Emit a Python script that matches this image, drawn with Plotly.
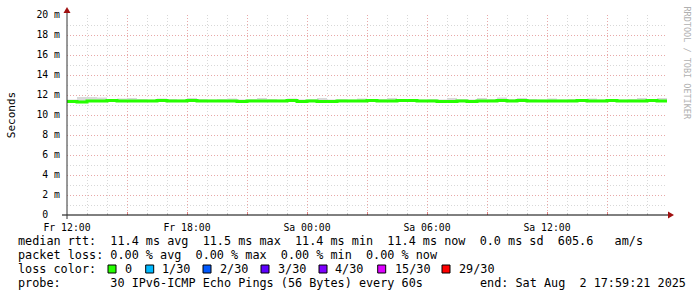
import plotly.graph_objects as go
import pandas as pd

# ---------------- data ----------------
times = pd.date_range("2025-08-01 12:00", periods=61, freq="30min")
median_ms = [
    11.35, 11.3, 11.4, 11.4, 11.45, 11.4, 11.4, 11.4, 11.4, 11.45,
    11.4, 11.4, 11.45, 11.4, 11.4, 11.4, 11.4, 11.35, 11.4, 11.4,
    11.4, 11.4, 11.45, 11.35, 11.4, 11.35, 11.35, 11.4, 11.4, 11.4,
    11.45, 11.4, 11.4, 11.45, 11.45, 11.4, 11.4, 11.35, 11.35, 11.4,
    11.35, 11.4, 11.4, 11.45, 11.4, 11.45, 11.4, 11.4, 11.4, 11.4,
    11.4, 11.45, 11.4, 11.4, 11.45, 11.4, 11.4, 11.4, 11.45, 11.4, 11.4,
]
smoke_hi = [
    11.55, 11.8, 11.8, 11.75, 11.6, 11.65, 11.7, 11.6, 11.55, 11.65,
    11.6, 11.55, 11.7, 11.6, 11.55, 11.6, 11.65, 11.55, 11.6, 11.7,
    11.6, 11.55, 11.65, 11.55, 11.6, 11.7, 11.55, 11.6, 11.55, 11.65,
    11.55, 11.6, 11.7, 11.55, 11.6, 11.55, 11.6, 11.55, 11.7, 11.6,
    11.55, 11.7, 11.6, 11.75, 11.6, 11.7, 11.6, 11.55, 11.65, 11.55,
    11.6, 11.55, 11.65, 11.55, 11.6, 11.55, 11.6, 11.7, 11.55, 11.7, 11.65,
]
smoke_lo = [
    11.3, 11.25, 11.3, 11.3, 11.35, 11.3, 11.3, 11.3, 11.3, 11.35,
    11.3, 11.3, 11.35, 11.3, 11.3, 11.3, 11.3, 11.25, 11.3, 11.3,
    11.3, 11.3, 11.35, 11.25, 11.3, 11.25, 11.25, 11.3, 11.3, 11.3,
    11.35, 11.3, 11.3, 11.35, 11.35, 11.3, 11.3, 11.25, 11.25, 11.3,
    11.25, 11.3, 11.3, 11.35, 11.3, 11.35, 11.3, 11.3, 11.3, 11.3,
    11.3, 11.35, 11.3, 11.3, 11.35, 11.3, 11.3, 11.3, 11.35, 11.3, 11.3,
]

x_range = ["2025-08-01 12:00:00", "2025-08-02 18:00:00"]
x_tickvals = pd.date_range("2025-08-01 12:00", periods=10, freq="3h")
x_ticktext = ["Fr 12:00", "", "Fr 18:00", "", "Sa 00:00", "", "Sa 06:00", "", "Sa 12:00", ""]
y_tickvals = [0, 2, 4, 6, 8, 10, 12, 14, 16, 18, 20]
y_ticktext = ["0\u00a0\u00a0", "2 m", "4 m", "6 m", "8 m", "10 m", "12 m", "14 m", "16 m", "18 m", "20 m"]

legend_lines = [
    "median rtt:  11.4 ms avg  11.5 ms max  11.4 ms min  11.4 ms now  0.0 ms sd  605.6   am/s",
    "packet loss: 0.00 % avg  0.00 % max  0.00 % min  0.00 % now",
    "loss color:",
    "probe:       30 IPv6-ICMP Echo Pings (56 Bytes) every 60s",
]
end_text = "end: Sat Aug  2 17:59:21 2025"
loss_labels = ["0", "1/30", "2/30", "3/30", "4/30", "15/30", "29/30"]
loss_colors = ["#26ff00", "#00b8ff", "#0059ff", "#5e00ff", "#7e00ff", "#dd00ff", "#ff0000"]

# ---------------- layout constants (pixels) ----------------
W, H = 697, 297
PL, PR, PT, PB = 67, 667, 15, 215
loss_box_x = [108, 145.7, 203, 261, 319, 377.7, 442]
loss_text_x = [123, 160, 218, 276, 333, 393, 457]
line_y = [241, 255, 269, 283]
MONO = "DejaVu Sans Mono"
LEG = 11.8


def px(x):
    return (x - PL) / (PR - PL)


def py(y):
    return (PB - y) / (PB - PT)


fig = go.Figure()
fig.add_trace(go.Scatter(x=times, y=smoke_lo, mode="lines", line=dict(width=0, shape="hv"),
                         hoverinfo="skip", showlegend=False))
fig.add_trace(go.Scatter(x=times, y=smoke_hi, mode="lines", line=dict(width=0, shape="hv"),
                         fill="tonexty", fillcolor="#d9d9d9", hoverinfo="skip", showlegend=False))
fig.add_trace(go.Scatter(x=times, y=median_ms, mode="lines",
                         line=dict(color="#26ff00", width=3, shape="hv"), showlegend=False))

dash = "1px,2px"
fig.update_xaxes(
    type="date", range=x_range, tickvals=x_tickvals, ticktext=x_ticktext,
    showgrid=True, gridcolor="#e8a8a8", griddash=dash, gridwidth=1,
    minor=dict(dtick=3600000, tick0="2025-08-01 12:00", showgrid=True, gridcolor="#d8d8d8",
               griddash=dash, ticks="inside", ticklen=2, tickcolor="#c8c8c8"),
    showline=False, zeroline=False, ticks="inside", ticklen=3, tickcolor="#e08080",
    ticklabelstandoff=5,
    tickfont=dict(family=MONO, size=9.8, color="#000"),
)
fig.update_yaxes(
    range=[0, 20], tickvals=y_tickvals, ticktext=y_ticktext,
    showgrid=True, gridcolor="#e8a8a8", griddash=dash, gridwidth=1,
    minor=dict(dtick=1, showgrid=True, gridcolor="#d8d8d8", griddash=dash),
    showline=False, zeroline=False, ticks="", ticklabelstandoff=6,
    tickfont=dict(family=MONO, size=9.8, color="#000"),
    title=dict(text="Seconds", font=dict(family=MONO, size=11, color="#000"), standoff=18),
)

shapes = [
    dict(type="line", xref="paper", yref="paper", x0=px(62), x1=px(670), y0=py(215), y1=py(215),
         line=dict(color="#000", width=1)),
    dict(type="line", xref="paper", yref="paper", x0=px(67), x1=px(67), y0=py(219), y1=py(11),
         line=dict(color="#333", width=1)),
    dict(type="path", xref="paper", yref="paper",
         path=f"M {px(668)} {py(211.5)} L {px(674)} {py(215)} L {px(668)} {py(218.5)} Z",
         fillcolor="#a01010", line=dict(width=0)),
    dict(type="path", xref="paper", yref="paper",
         path=f"M {px(63.5)} {py(13)} L {px(67)} {py(7)} L {px(70.5)} {py(13)} Z",
         fillcolor="#a01010", line=dict(width=0)),
]
for bx, c in zip(loss_box_x, loss_colors):
    shapes.append(dict(type="rect", xref="paper", yref="paper", x0=px(bx), x1=px(bx + 8),
                       y0=py(273), y1=py(265), fillcolor=c, line=dict(color="#000", width=1)))

ann = []
for t, y in zip(legend_lines, line_y):
    ann.append(dict(text=t.replace(" ", "\u00a0"), x=px(16), y=py(y), xref="paper", yref="paper",
                    xanchor="left", yanchor="middle", showarrow=False,
                    font=dict(family=MONO, size=LEG, color="#000")))
ann.append(dict(text=end_text.replace(" ", "\u00a0"), x=px(478), y=py(283), xref="paper", yref="paper",
                xanchor="left", yanchor="middle", showarrow=False,
                font=dict(family=MONO, size=LEG, color="#000")))
for tx, lab in zip(loss_text_x, loss_labels):
    ann.append(dict(text=lab, x=px(tx), y=py(269), xref="paper", yref="paper",
                    xanchor="left", yanchor="middle", showarrow=False,
                    font=dict(family=MONO, size=LEG, color="#000")))
ann.append(dict(text="RRDTOOL / TOBI OETIKER", x=px(687), y=py(4), xref="paper", yref="paper",
                xanchor="center", yanchor="top", textangle=90, showarrow=False,
                font=dict(family=MONO, size=8.5, color="#b0b0b0")))

fig.update_layout(
    width=W, height=H, margin=dict(l=PL, r=W - PR, t=PT, b=H - PB, pad=0, autoexpand=False),
    paper_bgcolor="#fff", plot_bgcolor="#fff", shapes=shapes, annotations=ann, showlegend=False,
)
fig.write_html("out.html")
